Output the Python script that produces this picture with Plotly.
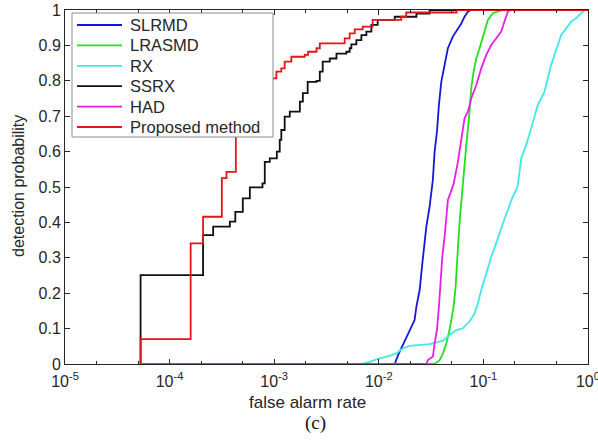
import plotly.graph_objects as go

# ---------------- data ----------------
series_names = ["SLRMD", "LRASMD", "RX", "SSRX", "HAD", "Proposed method"]
series_colors = ["#1717d6", "#20e020", "#40e8e8", "#101010", "#e620e6", "#e8141a"]

slrmd_far = [5.28e-5, 1.42e-2, 1.53e-2, 1.64e-2, 1.83e-2, 2.05e-2, 2.20e-2, 2.29e-2, 2.46e-2,
             2.61e-2, 2.74e-2, 2.85e-2, 3.06e-2, 3.18e-2, 3.29e-2, 3.42e-2, 3.60e-2, 3.76e-2,
             3.96e-2, 4.26e-2, 4.58e-2, 5.11e-2, 5.71e-2, 6.15e-2, 6.61e-2, 7.11e-2, 7.66e-2, 1.0]
slrmd_pd = [0, 0, 0.025, 0.044, 0.077, 0.105, 0.124, 0.162, 0.209,
            0.284, 0.35, 0.388, 0.444, 0.482, 0.52, 0.6, 0.656, 0.732,
            0.797, 0.845, 0.892, 0.925, 0.948, 0.962, 0.981, 0.995, 1.0, 1.0]

lrasmd_far = [5.28e-5, 3.42e-2, 3.82e-2, 4.11e-2, 4.42e-2, 4.68e-2, 4.94e-2, 5.19e-2, 5.43e-2,
              5.58e-2, 5.80e-2, 6.02e-2, 6.23e-2, 6.47e-2, 6.87e-2, 7.38e-2, 7.66e-2, 8.06e-2,
              8.56e-2, 9.20e-2, 9.76e-2, 0.1027, 0.1104, 0.1232, 0.1536, 1.0]
lrasmd_pd = [0, 0, 0.011, 0.03, 0.058, 0.087, 0.124, 0.162, 0.218,
             0.294, 0.36, 0.426, 0.482, 0.52, 0.619, 0.713, 0.779, 0.826,
             0.863, 0.892, 0.92, 0.944, 0.972, 0.991, 1.0, 1.0]

rx_far = [5.28e-5, 6.82e-3, 8.18e-3, 1.02e-2, 1.27e-2, 1.47e-2, 1.70e-2, 1.97e-2, 3.06e-2,
          3.55e-2, 4.11e-2, 4.76e-2, 5.51e-2, 6.37e-2, 7.38e-2, 8.24e-2, 8.86e-2, 9.55e-2,
          0.1027, 0.1104, 0.119, 0.1279, 0.1376, 0.1536, 0.171, 0.1913, 0.2062, 0.2136,
          0.2301, 0.2569, 0.2868, 0.3083, 0.3315, 0.3573, 0.3842, 0.4132, 0.4451, 0.4786,
          0.5147, 0.5547, 0.6192, 0.6913, 0.7716, 0.8612, 0.926, 1.0]
rx_pd = [0, 0, 0.006, 0.016, 0.023, 0.03, 0.044, 0.051, 0.056,
         0.06, 0.066, 0.082, 0.096, 0.101, 0.12, 0.143, 0.171, 0.209,
         0.237, 0.27, 0.303, 0.327, 0.355, 0.397, 0.435, 0.473, 0.492, 0.506,
         0.581, 0.619, 0.666, 0.703, 0.732, 0.75, 0.769, 0.807, 0.845, 0.873,
         0.901, 0.929, 0.948, 0.967, 0.977, 0.991, 1.0, 1.0]

ssrx_far = [5.28e-5, 5.28e-5, 2.09e-4, 2.61e-4, 3.77e-4, 4.25e-4, 5.01e-4, 5.85e-4, 7.73e-4,
            8.13e-4, 9.08e-4, 1.06e-3, 1.13e-3, 1.17e-3, 1.26e-3, 1.41e-3, 1.76e-3, 1.88e-3,
            2.09e-3, 2.54e-3, 2.73e-3, 2.91e-3, 3.40e-3, 3.94e-3, 4.90e-3, 5.27e-3, 5.47e-3,
            6.11e-3, 6.82e-3, 7.61e-3, 8.50e-3, 9.76e-3, 1.42e-2, 2.29e-2, 3.06e-2, 1.0]
ssrx_pd = [0, 0.251, 0.364, 0.388, 0.402, 0.43, 0.468, 0.499, 0.51,
           0.571, 0.581, 0.60, 0.633, 0.661, 0.699, 0.713, 0.741, 0.765,
           0.797, 0.80, 0.826, 0.854, 0.863, 0.877, 0.882, 0.892, 0.903,
           0.915, 0.929, 0.939, 0.958, 0.972, 0.981, 0.99, 1.0, 1.0]

had_far = [5.28e-5, 2.85e-2, 2.95e-2, 3.29e-2, 3.42e-2, 3.60e-2, 3.76e-2, 3.90e-2, 4.05e-2,
           4.26e-2, 4.42e-2, 4.58e-2, 4.76e-2, 4.94e-2, 5.19e-2, 5.71e-2, 6.15e-2, 6.61e-2,
           7.11e-2, 7.66e-2, 8.56e-2, 9.55e-2, 0.1066, 0.119, 0.133, 0.148, 0.159, 0.171,
           0.182, 1.0]
had_pd = [0, 0, 0.011, 0.021, 0.058, 0.096, 0.162, 0.237, 0.303,
          0.36, 0.407, 0.463, 0.477, 0.492, 0.508, 0.571, 0.638, 0.694,
          0.713, 0.75, 0.788, 0.835, 0.873, 0.901, 0.92, 0.939, 0.967, 0.995,
          1.0, 1.0]

prop_far = [5.28e-5, 5.28e-5, 1.59e-4, 2.09e-4, 3.16e-4, 3.50e-4, 4.30e-4, 1.05e-3, 1.17e-3,
            1.26e-3, 1.46e-3, 1.96e-3, 2.11e-3, 2.54e-3, 2.73e-3, 4.72e-3, 5.27e-3, 5.89e-3,
            7.02e-3, 8.74e-3, 1.64e-2, 1.83e-2, 5.55e-2, 1.0]
prop_pd = [0, 0.07, 0.341, 0.416, 0.525, 0.543, 0.807, 0.826, 0.835,
           0.854, 0.868, 0.873, 0.882, 0.892, 0.906, 0.92, 0.934, 0.945,
           0.953, 0.972, 0.981, 0.993, 1.0, 1.0]

x_tick_vals = [1e-5, 1e-4, 1e-3, 1e-2, 1e-1, 1.0]
x_tick_text = ["10<sup>-5</sup>", "10<sup>-4</sup>", "10<sup>-3</sup>",
               "10<sup>-2</sup>", "10<sup>-1</sup>", "10<sup>0</sup>"]
y_tick_vals = [0, 0.1, 0.2, 0.3, 0.4, 0.5, 0.6, 0.7, 0.8, 0.9, 1.0]
y_tick_text = ["0", "0.1", "0.2", "0.3", "0.4", "0.5", "0.6", "0.7", "0.8", "0.9", "1"]

x_title = "false alarm rate"
y_title = "detection probability"
caption = "(c)"

# ---------------- figure ----------------
all_x = [slrmd_far, lrasmd_far, rx_far, ssrx_far, had_far, prop_far]
all_y = [slrmd_pd, lrasmd_pd, rx_pd, ssrx_pd, had_pd, prop_pd]
shapes = ["linear", "linear", "linear", "hv", "linear", "hv"]

TXT = "#262626"
FONT = "Liberation Sans, Arial, sans-serif"

W, H = 598, 443
ml, mr, mt, mb = 65, 10, 10, 79
pw, ph = W - ml - mr, H - mt - mb


def px(xp):
    return (xp - ml) / pw


def py(yp):
    return (H - mb - yp) / ph


fig = go.Figure()
for name, col, xs, ys, shp in zip(series_names, series_colors, all_x, all_y, shapes):
    fig.add_trace(go.Scatter(x=xs, y=ys, mode="lines", name=name, showlegend=False,
                             line=dict(color=col, width=1.8, shape=shp)))

fig.update_layout(
    width=W, height=H,
    margin=dict(l=ml, r=mr, t=mt, b=mb, pad=0, autoexpand=False),
    paper_bgcolor="white", plot_bgcolor="white",
    font=dict(family=FONT, size=16, color=TXT),
    showlegend=False,
)
fig.update_xaxes(type="log", range=[-5, 0.0005], tickvals=x_tick_vals, ticktext=x_tick_text,
                 ticks="inside", ticklen=5, tickcolor=TXT, showline=True, linecolor=TXT,
                 linewidth=1, mirror="allticks", showgrid=False, zeroline=False,
                 ticklabeloverflow="allow", ticklabelstandoff=3, automargin=False,
                 minor=dict(ticks="inside", ticklen=3, tickcolor=TXT, showgrid=False),
                 tickfont=dict(size=16, color=TXT))
fig.update_yaxes(range=[0, 1], tickvals=y_tick_vals, ticktext=y_tick_text,
                 ticks="inside", ticklen=5, tickcolor=TXT, showline=True, linecolor=TXT,
                 linewidth=1, mirror="allticks", showgrid=False, zeroline=False,
                 automargin=False, tickfont=dict(size=16, color=TXT))

# legend box (drawn in the upper-left corner, as in the reference)
box_l, box_r, box_t, box_b = 72, 273, 13, 137
fig.add_shape(type="rect", xref="paper", yref="paper", layer="above",
              x0=px(box_l), x1=px(box_r), y0=py(box_b), y1=py(box_t),
              fillcolor="white", line=dict(color="#8c8c8c", width=1))
row_y0, row_dy = 25, 20.4
for i, (name, col) in enumerate(zip(series_names, series_colors)):
    ry = row_y0 + i * row_dy
    fig.add_shape(type="line", xref="paper", yref="paper", layer="above",
                  x0=px(77), x1=px(122), y0=py(ry), y1=py(ry),
                  line=dict(color=col, width=1.8))
    fig.add_annotation(text=name, xref="paper", yref="paper", x=px(128), y=py(ry),
                       showarrow=False, xanchor="left", yanchor="middle",
                       font=dict(size=16.5, color=TXT))

fig.add_annotation(text=x_title, xref="paper", yref="paper",
                   x=px(307), y=py(402), showarrow=False,
                   xanchor="center", yanchor="middle", font=dict(size=17, color=TXT))
fig.add_annotation(text=y_title, xref="paper", yref="paper",
                   x=px(18), y=py(186), showarrow=False, textangle=-90,
                   xanchor="center", yanchor="middle", font=dict(size=16, color=TXT))
fig.add_annotation(text=caption, xref="paper", yref="paper",
                   x=px(315), y=py(423), showarrow=False,
                   xanchor="center", yanchor="middle",
                   font=dict(family="Liberation Serif, Times New Roman, serif", size=19, color="#111111"))

fig.write_html("out.html", config={"displayModeBar": False},
               post_script="document.body.style.margin='0px';")
